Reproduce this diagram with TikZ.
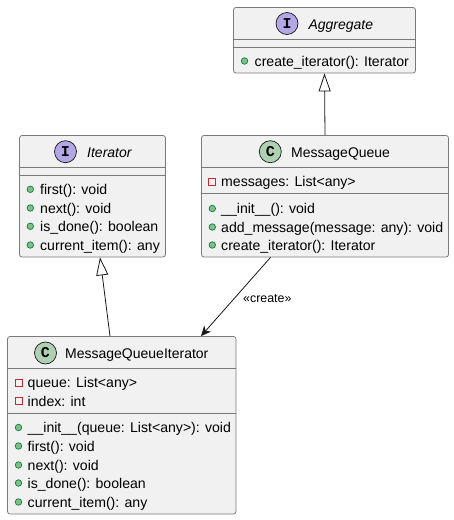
\documentclass[tikz,border=0pt]{standalone}
\usepackage{fontspec}
\setmainfont{Liberation Sans}
\newfontfamily\spotfont{Liberation Mono}
\usetikzlibrary{arrows.meta}
\definecolor{boxfill}{HTML}{F1F1F1}
\definecolor{boxline}{HTML}{7A7A7A}
\definecolor{inkline}{HTML}{181818}
\definecolor{classspot}{HTML}{ADD1B2}
\definecolor{ifacespot}{HTML}{B4A7E5}
\definecolor{pubfill}{HTML}{84BE84}
\definecolor{publine}{HTML}{038048}
\definecolor{privline}{HTML}{C82930}
\tikzset{
    umlbox/.style={draw=boxline,fill=boxfill,line width=0.8pt,rounded corners=2.5pt,inner sep=0},
    sepline/.style={draw=boxline,line width=0.8pt},
    spotnode/.style={circle,draw=inkline,line width=0.7pt,minimum size=22pt,inner sep=0,font=\spotfont\bfseries\fontsize{15pt}{15pt}\selectfont},
    titletext/.style={anchor=base west,inner sep=0,text=black,font=\fontsize{14pt}{16pt}\selectfont},
    rowtext/.style={anchor=base west,inner sep=0,text=black,font=\fontsize{14.1pt}{16pt}\selectfont},
    pubdot/.style={circle,draw=publine,fill=pubfill,line width=0.7pt,minimum size=6.5pt,inner sep=0},
    privdot/.style={rectangle,draw=privline,fill=boxfill,line width=0.9pt,minimum size=7pt,inner sep=0},
    inherit/.style={draw=inkline,line width=0.8pt,-{Triangle[open,length=18pt,width=12pt]}},
    creates/.style={draw=inkline,line width=0.8pt,-{Stealth[length=10pt,width=9pt,inset=3pt]}}
}
\begin{document}
\begin{tikzpicture}[x=1pt,y=-1pt]
    \useasboundingbox (0,0) rectangle (454,520);
    % boxes
    \node[umlbox,minimum width=182pt,minimum height=65.5pt] (aggregate) at (324.5,40.25) {};
    \node[umlbox,minimum width=146pt,minimum height=121.5pt] (iterator) at (92.5,196.25) {};
    \node[umlbox,minimum width=247pt,minimum height=121.5pt] (msgqueue) at (325,196.25) {};
    \node[umlbox,minimum width=228.5pt,minimum height=177.5pt] (msgiter) at (121.75,425.25) {};
    % separators
    \draw[sepline] (233.5,39.5) -- (415.5,39.5) (233.5,47.3) -- (415.5,47.3);
    \draw[sepline] (19.5,167.3) -- (165.5,167.3) (19.5,175.3) -- (165.5,175.3);
    \draw[sepline] (201.5,167.3) -- (448.5,167.3) (201.5,193.3) -- (448.5,193.3);
    \draw[sepline] (7.5,368.3) -- (236,368.3) (7.5,413.3) -- (236,413.3);
    % headers
    \node[spotnode,fill=ifacespot] (aggspot) at (287,23.5) {I};
    \node[titletext] (aggname) at (308.3,29) {\itshape Aggregate};
    \node[spotnode,fill=ifacespot] (iterspot) at (65.5,151.7) {I};
    \node[titletext] (itername) at (87,157) {\itshape Iterator};
    \node[spotnode,fill=classspot] (queuespot) at (270.3,151.7) {C};
    \node[titletext] (queuename) at (291,157) {MessageQueue};
    \node[spotnode,fill=classspot] (implspot) at (45.5,353) {C};
    \node[titletext] (implname) at (65,358) {MessageQueueIterator};
    % members
    \node[pubdot] (aggdot) at (244.5,61) {};
    \node[rowtext] (aggrow) at (254.5,66) {create\_iterator(): Iterator};
    \foreach \y/\t [count=\i] in {189.3/{first(): void},208/{next(): void},226.3/{is\_done(): boolean},245/{current\_item(): any}} {
        \node[pubdot] (iterdot\i) at (30.3,\y) {};
        \node[rowtext] (iterrow\i) at (40,\y+5) {\t};
    }
    \node[privdot] (queuepriv) at (212.3,181.5) {};
    \node[rowtext] (queuefield) at (221,186.5) {messages: List<any>};
    \foreach \y/\t [count=\i] in {208.5/{\_\_init\_\_(): void},227/{add\_message(message: any): void},245/{create\_iterator(): Iterator}} {
        \node[pubdot] (queuedot\i) at (212.3,\y) {};
        \node[rowtext] (queuerow\i) at (221,\y+5) {\t};
    }
    \foreach \y/\t [count=\i] in {382.5/{queue: List<any>},401/{index: int}} {
        \node[privdot] (implpriv\i) at (18.5,\y) {};
        \node[rowtext] (implfield\i) at (27.5,\y+5) {\t};
    }
    \foreach \y/\t [count=\i] in {427.5/{\_\_init\_\_(queue: List<any>): void},446/{first(): void},465/{next(): void},483/{is\_done(): boolean},502/{current\_item(): any}} {
        \node[pubdot] (impldot\i) at (18.5,\y) {};
        \node[rowtext] (implrow\i) at (27.5,\y+5) {\t};
    }
    % connectors
    \draw[inherit] (msgqueue.north) -- (aggregate.south);
    \draw[inherit] ([xshift=-11.75pt]msgiter.north) -- ([xshift=7.5pt]iterator.south);
    \draw[creates] ([xshift=-54.5pt]msgqueue.south) -- ([xshift=79.25pt]msgiter.north);
    \node[anchor=base west,inner sep=0,text=black,font=\fontsize{12.4pt}{14pt}\selectfont] (createlabel) at (243,302) {«create»};
\end{tikzpicture}
\end{document}
